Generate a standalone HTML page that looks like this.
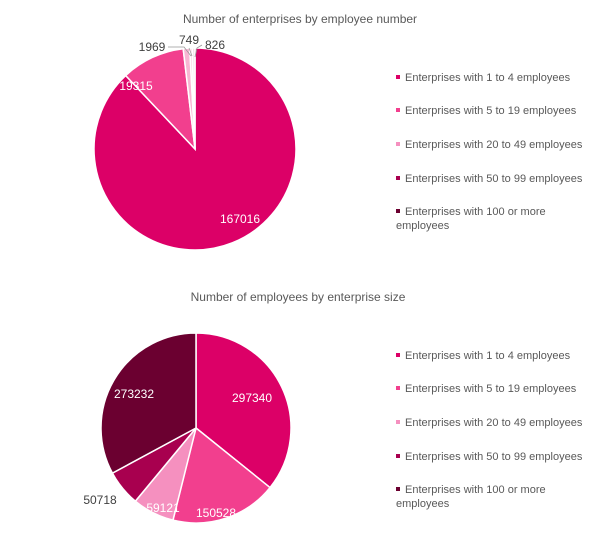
<!DOCTYPE html>
<html><head><style>
body{margin:0;background:#fff;width:601px;height:553px;overflow:hidden;font-family:"Liberation Sans",sans-serif}
</style></head><body>
<svg id="s" width="601" height="553" xmlns="http://www.w3.org/2000/svg" font-family="Liberation Sans, sans-serif">
<text x="300" y="23" font-size="12" fill="#595959" text-anchor="middle">Number  of enterprises by employee number</text>
<text x="298" y="301" font-size="12" fill="#595959" text-anchor="middle">Number  of employees by enterprise size</text>
<g id="p1"></g><g id="p2"></g>
<g font-size="11" fill="#595959">
<rect x="396" y="75" width="4" height="4" fill="#dc0067"/><text x="405" y="81">Enterprises with 1 to 4 employees</text>
<rect x="396" y="108" width="4" height="4" fill="#f23f8e"/><text x="405" y="114">Enterprises with 5 to 19 employees</text>
<rect x="396" y="142" width="4" height="4" fill="#f590bf"/><text x="405" y="148">Enterprises with 20 to 49 employees</text>
<rect x="396" y="176" width="4" height="4" fill="#a8004f"/><text x="405" y="182">Enterprises with 50 to 99 employees</text>
<rect x="396" y="209" width="4" height="4" fill="#6b0030"/><text x="405" y="215">Enterprises with 100 or more</text><text x="396" y="229">employees</text>
<rect x="396" y="353" width="4" height="4" fill="#dc0067"/><text x="405" y="359">Enterprises with 1 to 4 employees</text>
<rect x="396" y="386" width="4" height="4" fill="#f23f8e"/><text x="405" y="392">Enterprises with 5 to 19 employees</text>
<rect x="396" y="420" width="4" height="4" fill="#f590bf"/><text x="405" y="426">Enterprises with 20 to 49 employees</text>
<rect x="396" y="454" width="4" height="4" fill="#a8004f"/><text x="405" y="460">Enterprises with 50 to 99 employees</text>
<rect x="396" y="487" width="4" height="4" fill="#6b0030"/><text x="405" y="493">Enterprises with 100 or more</text><text x="396" y="507">employees</text>
</g>
<g font-size="12">
<text x="240" y="223" fill="#fff" text-anchor="middle">167016</text>
<text x="136" y="90" fill="#fff" text-anchor="middle">19315</text>
<text x="152" y="51" fill="#404040" text-anchor="middle">1969</text>
<text x="189" y="44" fill="#404040" text-anchor="middle">749</text>
<text x="215" y="49" fill="#404040" text-anchor="middle">826</text>
<polyline points="168,47 184,47 191,56" fill="none" stroke="#999" stroke-width="0.8"/>
<polyline points="189,48 192,56" fill="none" stroke="#999" stroke-width="0.8"/>
<polyline points="202,45 197,48 195,57" fill="none" stroke="#999" stroke-width="0.8"/>
<text x="252" y="402" fill="#fff" text-anchor="middle">297340</text>
<text x="216" y="517" fill="#fff" text-anchor="middle">150528</text>
<text x="163" y="512" fill="#fff" text-anchor="middle">59121</text>
<text x="100" y="504" fill="#404040" text-anchor="middle">50718</text>
<text x="134" y="398" fill="#fff" text-anchor="middle">273232</text>
</g>
</svg>
<script>
function pie(id,cx,cy,r,vals,cols){var t=vals.reduce((a,b)=>a+b,0),a=-Math.PI/2,g=document.getElementById(id),h='';
vals.forEach((v,i)=>{var b=a+v/t*2*Math.PI,x1=cx+r*Math.cos(a),y1=cy+r*Math.sin(a),x2=cx+r*Math.cos(b),y2=cy+r*Math.sin(b);
h+='<path d="M'+cx+','+cy+'L'+x1+','+y1+'A'+r+','+r+' 0 '+(b-a>Math.PI?1:0)+' 1 '+x2+','+y2+'Z" fill="'+cols[i]+'" stroke="#fff" stroke-width="1.5"/>';a=b;});g.innerHTML=h;}
var c=["#dc0067","#f23f8e","#f590bf","#a8004f","#6b0030"];
pie("p1",195,149,101,[167016,19315,1969,749,826],["#dc0067","#f23f8e","#f8b5d3","#f7d0e0","#f2e4ea"]);
pie("p2",196,428,95,[297340,150528,59121,50718,273232],c);
</script>
</body></html>
